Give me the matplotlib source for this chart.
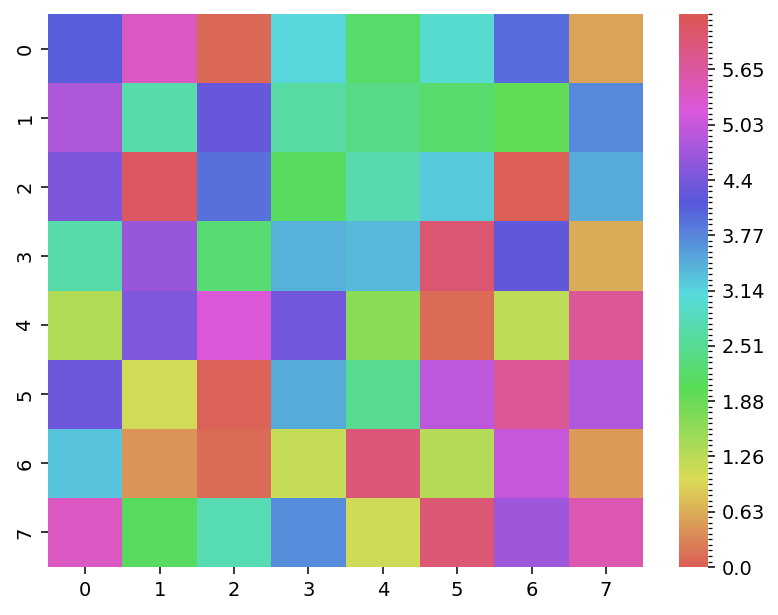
import numpy as np
import matplotlib
matplotlib.use("Agg")
import matplotlib.pyplot as plt
import seaborn as sns

# angle values (radians), row by row
row_labels = ["0", "1", "2", "3", "4", "5", "6", "7"]
col_labels = ["0", "1", "2", "3", "4", "5", "6", "7"]
row0 = [4.09, 5.38, 0.08, 3.14, 2.21, 2.99, 3.97, 0.54]
row1 = [4.82, 2.68, 4.26, 2.64, 2.41, 2.22, 1.95, 3.75]
row2 = [4.43, 6.16, 3.95, 2.09, 2.73, 3.22, 0.02, 3.47]
row3 = [2.70, 4.65, 2.28, 3.43, 3.35, 6.03, 4.22, 0.62]
row4 = [1.33, 4.46, 5.22, 4.35, 1.64, 0.11, 1.24, 5.73]
row5 = [4.32, 1.06, 0.03, 3.47, 2.51, 4.95, 5.72, 4.84]
row6 = [3.27, 0.43, 0.12, 1.17, 5.97, 1.32, 5.01, 0.48]
row7 = [5.39, 2.09, 2.76, 3.71, 1.08, 6.00, 4.70, 5.52]

data = np.array([row0, row1, row2, row3, row4, row5, row6, row7])

vmax = 2 * np.pi
major = np.arange(10) * vmax / 10
minor = np.linspace(0, vmax, 101)

# original looks like a 10pt figure scaled up ~1.4x
plt.rcParams.update({
    'font.size': 14,
    'xtick.major.size': 5.2, 'ytick.major.size': 5.2,
    'xtick.major.width': 1.1, 'ytick.major.width': 1.1,
    'ytick.minor.size': 3.0, 'ytick.minor.width': 0.9,
    'xtick.major.pad': 4.5, 'ytick.major.pad': 4.5,
})

fig = plt.figure(figsize=(7.78, 6.15), dpi=100)
ax = fig.add_axes([0.0617, 0.078, 0.765, 0.899])
cax = fig.add_axes([0.873, 0.078, 0.0373, 0.899])

cmap = sns.color_palette("hls", as_cmap=True)
sns.heatmap(data, ax=ax, cbar_ax=cax, cmap=cmap, vmin=0, vmax=vmax,
            xticklabels=col_labels, yticklabels=row_labels)

cax.set_yticks(major)
cax.set_yticklabels([str(round(t, 2)) for t in major])
cax.set_yticks(minor, minor=True)
cax.tick_params(labelsize=14)
ax.tick_params(labelsize=14)

fig.savefig("out.png", dpi=100)
